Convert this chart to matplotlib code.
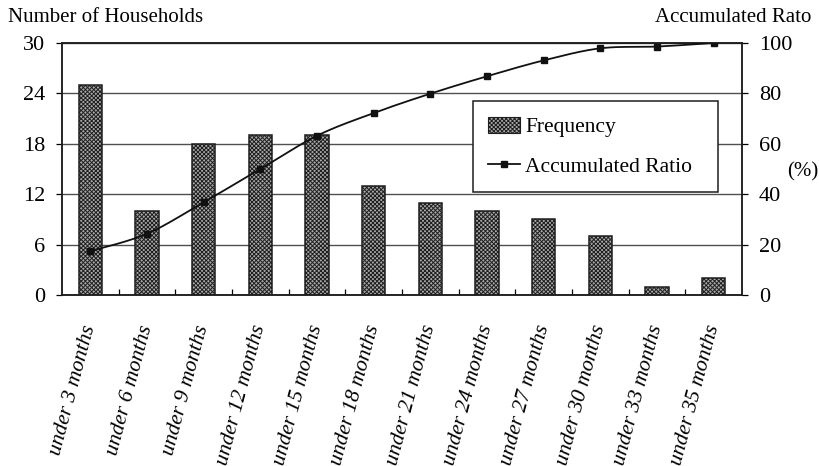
import numpy as np
import matplotlib.pyplot as plt
from matplotlib.patches import Patch
from matplotlib.lines import Line2D
from matplotlib.transforms import ScaledTranslation

plt.rcParams['font.family'] = ['Liberation Serif', 'DejaVu Serif']
plt.rcParams['hatch.color'] = '#2a2a2a'
plt.rcParams['hatch.linewidth'] = 0.7

# waiting period categories
months = ['under 3 months', 'under 6 months', 'under 9 months', 'under 12 months',
          'under 15 months', 'under 18 months', 'under 21 months', 'under 24 months',
          'under 27 months', 'under 30 months', 'under 33 months', 'under 35 months']
# number of households in each period
frequency = [25, 10, 18, 19, 19, 13, 11, 10, 9, 7, 1, 2]
# accumulated ratio (%)
accumulated_ratio = [17.4, 24.3, 36.8, 50.0, 63.2, 72.2, 79.9, 86.8, 93.1, 97.9, 98.6, 100.0]

left_ticks = [0, 6, 12, 18, 24, 30]
right_ticks = [0, 20, 40, 60, 80, 100]


def smooth_curve(x, y, steps=24):
    # catmull-rom style smoothing through every point
    x = np.asarray(x, float)
    y = np.asarray(y, float)
    n = len(x)
    xs, ys = [], []
    for i in range(n - 1):
        p0 = (x[max(i - 1, 0)], y[max(i - 1, 0)])
        p1 = (x[i], y[i])
        p2 = (x[i + 1], y[i + 1])
        p3 = (x[min(i + 2, n - 1)], y[min(i + 2, n - 1)])
        c1 = (p1[0] + (p2[0] - p0[0]) / 6, p1[1] + (p2[1] - p0[1]) / 6)
        c2 = (p2[0] - (p3[0] - p1[0]) / 6, p2[1] - (p3[1] - p1[1]) / 6)
        t = np.linspace(0, 1, steps)
        b0 = (1 - t) ** 3
        b1 = 3 * (1 - t) ** 2 * t
        b2 = 3 * (1 - t) * t ** 2
        b3 = t ** 3
        xs.extend(b0 * p1[0] + b1 * c1[0] + b2 * c2[0] + b3 * p2[0])
        ys.extend(b0 * p1[1] + b1 * c1[1] + b2 * c2[1] + b3 * p2[1])
    return xs, ys


fig = plt.figure(figsize=(8.19, 4.66), dpi=100)
ax = fig.add_axes([0.0757, 0.367, 0.8303, 0.5407])
x = np.arange(len(months))

bar_face = '#a9a9a9'
bar_hatch = 'xxxxxxxx'

# bars
ax.bar(x, frequency, width=0.41, facecolor=bar_face, edgecolor='#1e1e1e',
       linewidth=1.1, hatch=bar_hatch, zorder=3)
ax.set_xlim(-0.5, len(months) - 0.5)
ax.set_ylim(0, 30)
ax.set_yticks(left_ticks)
ax.yaxis.grid(True, color='#505050', linewidth=1.0, zorder=0)
ax.set_axisbelow(True)
for s in ax.spines.values():
    s.set_linewidth(1.1)
    s.set_color('#1e1e1e')

ax.set_xticks(x)
ax.set_xticklabels(months, rotation=75, ha='right', va='center', rotation_mode='anchor',
                   fontsize=15.5, style='italic')
ax.tick_params(axis='x', which='major', length=0, pad=22)
shift = ScaledTranslation(0, 0, fig.dpi_scale_trans)
for lbl in ax.get_xticklabels():
    lbl.set_transform(lbl.get_transform() + shift)
ax.set_xticks(np.arange(0.5, len(months) - 1, 1), minor=True)
ax.tick_params(axis='x', which='minor', direction='in', length=4, width=0.9)
ax.tick_params(axis='y', labelsize=16, length=4, width=0.9, pad=8)

# accumulated ratio line on the right axis
ax2 = ax.twinx()
sx, sy = smooth_curve(x, accumulated_ratio)
ax2.plot(sx, sy, color='#111111', linewidth=1.3, zorder=4)
ax2.plot(x, accumulated_ratio, linestyle='none', marker='s', markersize=5,
         color='#111111', zorder=5)
ax2.set_ylim(0, 100)
ax2.set_yticks(right_ticks)
ax2.tick_params(axis='y', labelsize=16, length=4, width=0.9, pad=8)
for s in ax2.spines.values():
    s.set_linewidth(1.1)
    s.set_color('#1e1e1e')

handles = [Patch(facecolor=bar_face, edgecolor='#1e1e1e', hatch=bar_hatch, linewidth=0.8),
           Line2D([0], [0], color='#111111', linewidth=1.3, marker='s', markersize=5)]
leg = ax2.legend(handles, ['Frequency', 'Accumulated Ratio'],
                 bbox_to_anchor=(0.604, 0.405, 0.361, 0.365), loc='center', mode='expand',
                 fontsize=15.5, frameon=True, fancybox=False, framealpha=1,
                 edgecolor='#1e1e1e', handlelength=1.5, handleheight=0.8,
                 handletextpad=0.25, labelspacing=0.9, borderpad=0.7, borderaxespad=0)
leg.get_frame().set_linewidth(1.1)

fig.text(8 / 819, 1 - 18 / 466, 'Number of Households', fontsize=15, va='center', ha='left')
fig.text(811 / 819, 1 - 18 / 466, 'Accumulated Rato', fontsize=15, va='center', ha='right')
fig.text(803 / 819, 1 - 172 / 466, '(%)', fontsize=15, va='center', ha='center')

fig.savefig('out.png', dpi=100, facecolor='white')
